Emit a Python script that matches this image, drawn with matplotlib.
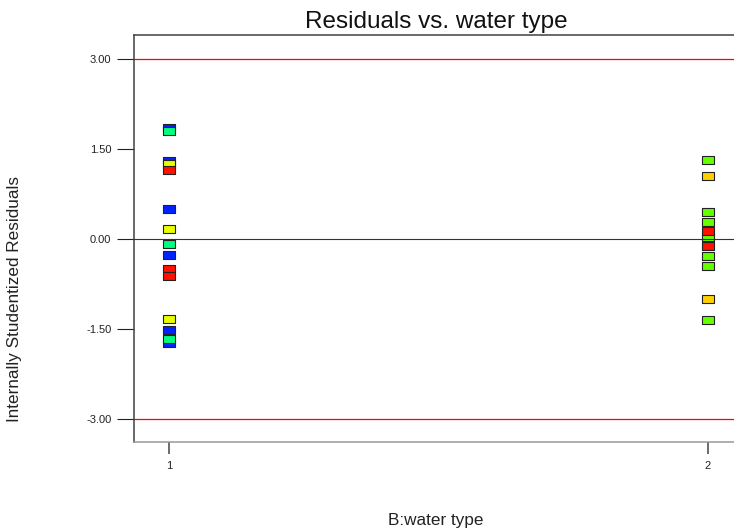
import numpy as np
import matplotlib
matplotlib.use("Agg")
import matplotlib.pyplot as plt

plt.rcParams['font.family'] = ['Liberation Sans', 'DejaVu Sans']

# residuals at water type 1, grouped by point colour (drawn in this order)
wt1_blue = [1.84, 1.29, 0.50, -0.27, -1.51, -1.73]
wt1_green = [1.79, -0.09, -1.66]
wt1_yellow = [1.25, 0.17, -1.33]
wt1_red = [1.15, -0.50, -0.61]

# residuals at water type 2
wt2_lime = [1.32, 0.45, 0.28, 0.03, -0.29, -0.45, -1.35]
wt2_gold = [1.04, -1.00]
wt2_red = [0.14, -0.11]

yticks = [-3.0, -1.5, 0.0, 1.5, 3.0]
xticks = [1, 2]
limit = 3.0

# wide rectangle marker
rect = [(-1, -0.72), (1, -0.72), (1, 0.72), (-1, 0.72), (-1, -0.72)]

fig = plt.figure(figsize=(7.34, 5.31), dpi=100)
ax = fig.add_axes([0.183, 0.167, 0.817, 0.767])

groups = [
    (1, wt1_blue, '#0022ff'),
    (1, wt1_green, '#00ff80'),
    (1, wt1_yellow, '#e8ff00'),
    (1, wt1_red, '#ff1100'),
    (2, wt2_lime, '#66ff00'),
    (2, wt2_gold, '#ffd000'),
    (2, wt2_red, '#ff1100'),
]
for x, vals, col in groups:
    ax.plot([x] * len(vals), vals, linestyle='none', marker=rect, markersize=8.4,
            markerfacecolor=col, markeredgecolor='#222222', markeredgewidth=0.8, zorder=3)

ax.axhline(limit, color='#ff0000', lw=0.9, zorder=2)
ax.axhline(-limit, color='#ff0000', lw=0.9, zorder=2)
ax.axhline(0, color='#333333', lw=0.8, zorder=4)

ax.set_xlim(0.935, 2.049)
ax.set_ylim(-3.38, 3.39)
ax.set_yticks(yticks)
ax.set_yticklabels(['%.2f' % v for v in yticks])
ax.set_xticks(xticks)
ax.set_xticklabels([str(v) for v in xticks])
ax.tick_params(axis='y', length=12.5, width=0.8, color='#222222', pad=4, labelsize=8, labelcolor='#222222')
ax.tick_params(axis='x', length=8.5, width=1.1, color='#444444', pad=5, labelsize=8, labelcolor='#222222')

ax.spines['right'].set_visible(False)
ax.spines['left'].set_color('#404040')
ax.spines['top'].set_color('#404040')
ax.spines['bottom'].set_color('#999999')
for s in ['left', 'top', 'bottom']:
    ax.spines[s].set_linewidth(1.1)

fig.text(436.5 / 734, 1 - 28.3 / 531, 'Residuals vs. water type', ha='center', va='baseline',
         fontsize=17.5, color='#111111')
fig.text(15 / 734, 1 - 298.5 / 531, 'Internally Studentized Residuals', rotation=90,
         ha='center', va='center', fontsize=12.3, color='#222222')
fig.text(436 / 734, 1 - 520 / 531, 'B:water type', ha='center', va='center',
         fontsize=12.3, color='#222222')

fig.savefig('out.png', dpi=100)
